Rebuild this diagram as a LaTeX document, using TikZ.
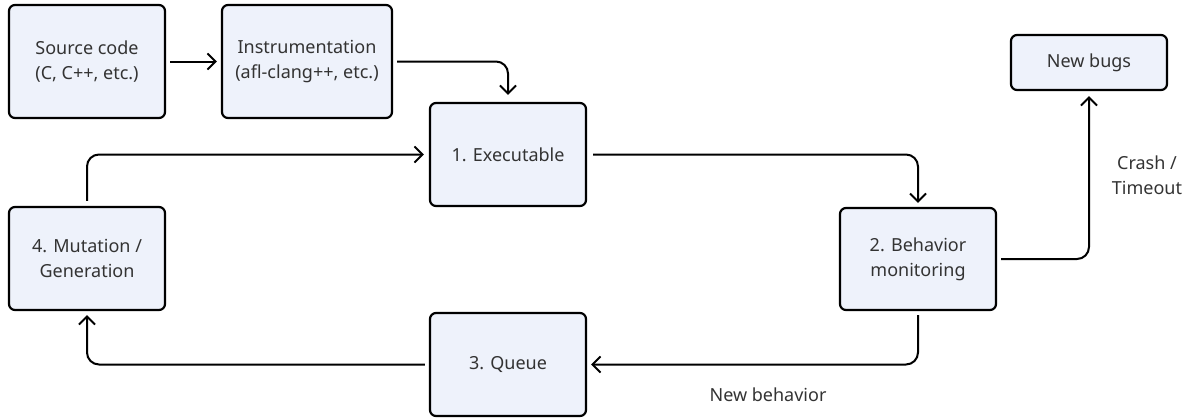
\documentclass[tikz,border=0pt]{standalone}
\usepackage{fontspec}
\setmainfont{Noto Sans}
\usetikzlibrary{arrows.meta}
\definecolor{boxfill}{HTML}{EEF2FB}
\definecolor{txt}{HTML}{333333}
\tikzset{
  box/.style={draw=black, line width=2.2pt, fill=boxfill, rounded corners=6pt,
    inner sep=0pt, align=center, text=txt, font=\fontsize{18}{25}\selectfont},
  conn/.style={line width=2pt, rounded corners=12pt,
    -{Straight Barb[length=8pt,width=16pt,line width=2pt]}},
  lbl/.style={text=txt, align=center, font=\fontsize{18}{25}\selectfont}
}
\begin{document}
\begin{tikzpicture}[x=1pt,y=-1pt]
\useasboundingbox (0,0) rectangle (1188,418);
\node[box, minimum width=156pt, minimum height=113pt] (src) at (87,61.5) {Source code\\(C, C++, etc.)};
\node[box, minimum width=170pt, minimum height=113pt] (ins) at (307,61.5) {Instrumentation\\(afl-clang++, etc.)};
\node[box, minimum width=156pt, minimum height=103pt] (exe) at (508,154.5) {1. Executable};
\node[box, minimum width=156pt, minimum height=102pt] (beh) at (918,259) {2. Behavior\\monitoring};
\node[box, minimum width=156pt, minimum height=55pt] (bug) at (1089,62.5) {New bugs};
\node[box, minimum width=156pt, minimum height=103pt] (que) at (508,364.5) {3. Queue};
\node[box, minimum width=156pt, minimum height=103pt] (mut) at (87,258.5) {4. Mutation /\\Generation};
\node[lbl] (crash) at (1147,175.5) {Crash /\\Timeout};
\node[lbl] (newb) at (768,395) {New behavior};

\draw[conn, shorten <=4pt, shorten >=4pt] (src.east) -- (ins.west);
\draw[conn, shorten <=4pt, shorten >=7pt] (ins.east) -- (exe.north |- ins.east) -- (exe.north);
\draw[conn, shorten <=6pt, shorten >=4pt] (exe.east) -- (beh.north |- exe.east) -- (beh.north);
\draw[conn, shorten <=4pt, shorten >=5pt] (beh.east) -- (bug.south |- beh.east) -- (bug.south);
\draw[conn, shorten <=4pt, shorten >=4pt] (beh.south) -- (beh.south |- que.east) -- (que.east);
\draw[conn, shorten <=4pt, shorten >=4pt] (que.west) -- (mut.south |- que.west) -- (mut.south);
\draw[conn, shorten <=5pt, shorten >=5pt] (mut.north) -- (mut.north |- exe.west) -- (exe.west);
\end{tikzpicture}
\end{document}
